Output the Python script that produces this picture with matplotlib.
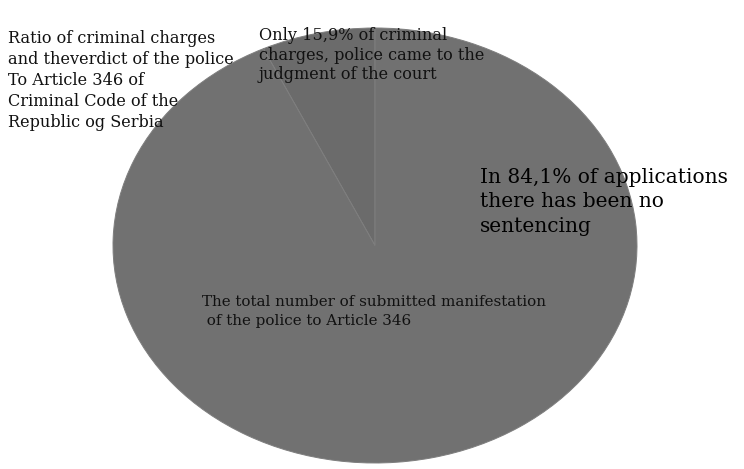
import matplotlib
matplotlib.use("Agg")
import matplotlib.pyplot as plt

labels = ["Court judgment", "No sentencing"]
values = [7.0, 93.0]
colors = ["#6b6b6b", "#717171"]

title_text = "Ratio of criminal charges\nand theverdict of the police\nTo Article 346 of\nCriminal Code of the\nRepublic og Serbia"
slice_text = "Only 15,9% of criminal\ncharges, police came to the\njudgment of the court"
big_text = "In 84,1% of applications\nthere has been no\nsentencing"
total_text = "The total number of submitted manifestation\n of the police to Article 346"

W, H = 744, 469
fig = plt.figure(figsize=(W / 100, H / 100), dpi=100)
fig.patch.set_facecolor("white")
ax = fig.add_axes([113 / W, 6 / H, 524 / W, 435 / H])
ax.pie(values, colors=colors, startangle=90, counterclock=True,
       wedgeprops=dict(edgecolor="#7e7e7e", linewidth=0.7))
ax.set_aspect("auto")
ax.set_xlim(-1, 1)
ax.set_ylim(-1, 1)
ax.axis("off")

serif = ["DejaVu Serif"]
fig.text(8 / W, 1 - 30 / H, title_text, family=serif, fontsize=11.6,
         va="top", ha="left", linespacing=1.3, color="#111111")
fig.text(259 / W, 1 - 27 / H, slice_text, family=serif, fontsize=11.6,
         va="top", ha="left", linespacing=1.2, color="#111111")
fig.text(480 / W, 1 - 168 / H, big_text, family=serif, fontsize=14.5,
         va="top", ha="left", linespacing=1.36, color="#000000")
fig.text(202 / W, 1 - 295 / H, total_text, family=serif, fontsize=10.9,
         va="top", ha="left", linespacing=1.5, color="#111111")

fig.savefig("out.png", dpi=100, facecolor="white")
